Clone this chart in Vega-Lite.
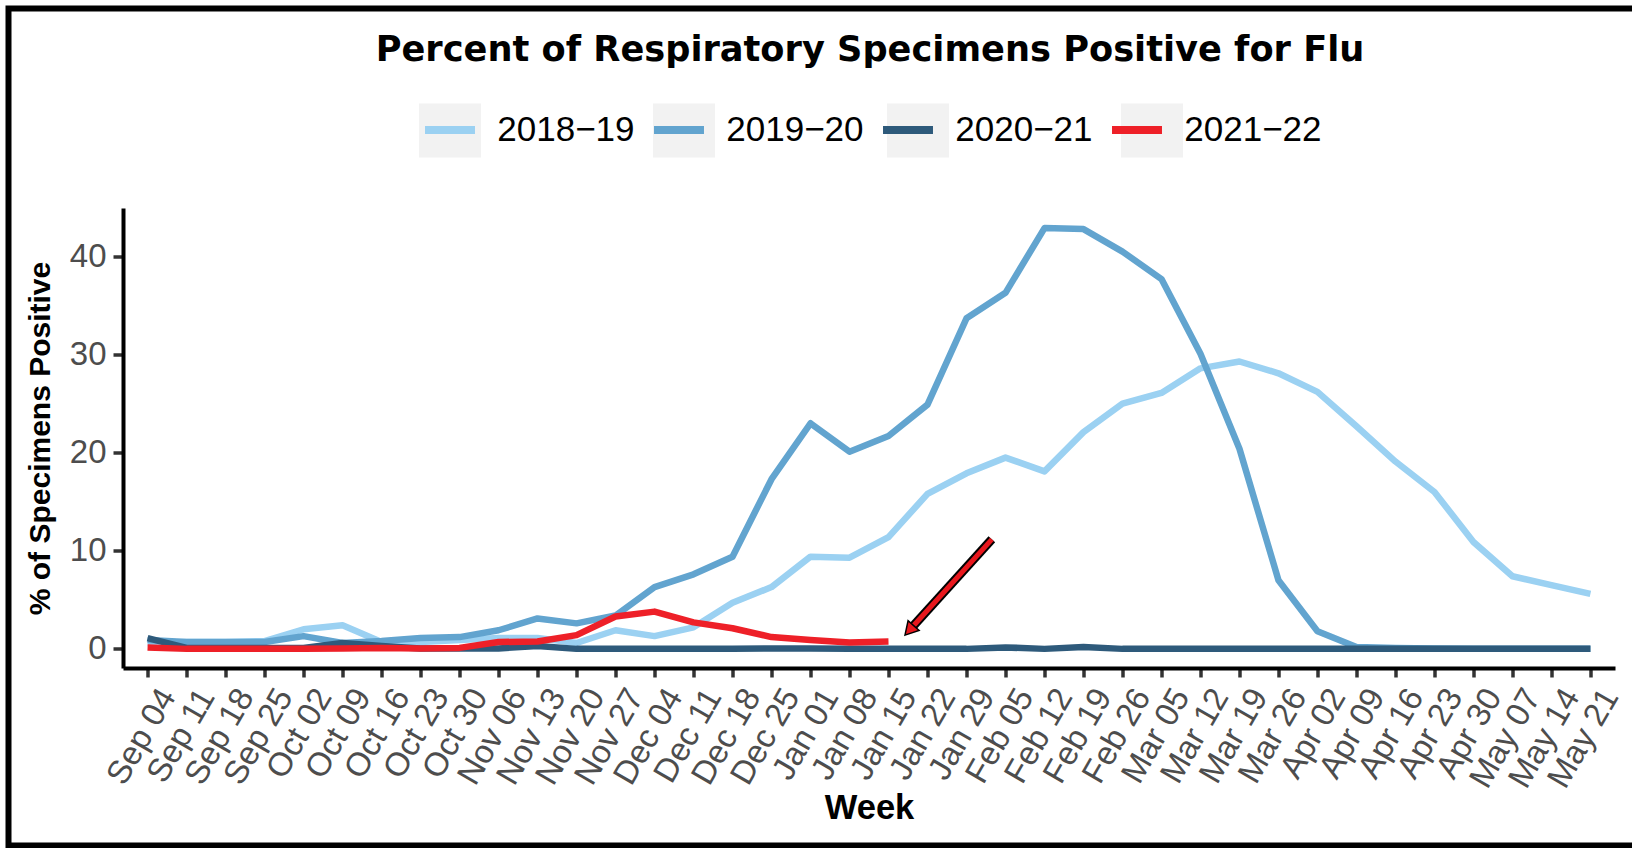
{
  "$schema": "https://vega.github.io/schema/vega-lite/v6.json",
  "width": 1627.5,
  "height": 837,
  "autosize": {"type": "none"},
  "padding": {"left": 8.5, "top": 8.5, "right": -4, "bottom": 2.5},
  "background": "white",
  "title": {
    "text": "Percent of Respiratory Specimens Positive for Flu",
    "font": "DejaVu Sans",
    "fontSize": 35.2,
    "fontWeight": "bold",
    "color": "black",
    "anchor": "middle",
    "frame": "group",
    "baseline": "alphabetic",
    "offset": -88,
    "dx": 47.75
  },
  "resolve": {"scale": {"x": "independent"}},
  "layer": [
    {
      "data": {"values": [{"season": "2018−19"}, {"season": "2019−20"}, {"season": "2020−21"}, {"season": "2021−22"}]},
      "transform": [{"filter": "false"}],
      "mark": {"type": "point", "filled": true},
      "encoding": {
        "fill": {
          "field": "season",
          "type": "nominal",
          "scale": {"domain": ["2018−19", "2019−20", "2020−21", "2021−22"], "range": ["#f2f2f2", "#f2f2f2", "#f2f2f2", "#f2f2f2"]},
          "legend": {
            "orient": "none",
            "legendX": 406.5,
            "legendY": 86.5,
            "direction": "horizontal",
            "title": null,
            "padding": 0,
            "symbolType": "M-1,-0.871H1V0.871H-1Z",
            "symbolSize": 3844,
            "symbolStrokeWidth": 8,
            "symbolStrokeColor": "transparent",
            "symbolOpacity": 1,
            "labelFont": "Liberation Sans",
            "labelFontSize": 35,
            "labelExpr": "''",
            "labelOffset": 12.3,
            "columnPadding": 139
          }
        }
      }
    },
    {
      "data": {
        "values": [
          {"week": "Sep 04", "2018−19": 0.6, "2019−20": 0.9, "2020−21": 1.1, "2021−22": 0.15},
          {"week": "Sep 11", "2018−19": 0.7, "2019−20": 0.7, "2020−21": 0.1, "2021−22": 0.0},
          {"week": "Sep 18", "2018−19": 0.7, "2019−20": 0.7, "2020−21": 0.1, "2021−22": 0.0},
          {"week": "Sep 25", "2018−19": 0.8, "2019−20": 0.7, "2020−21": 0.1, "2021−22": 0.0},
          {"week": "Oct 02", "2018−19": 2.0, "2019−20": 1.3, "2020−21": 0.1, "2021−22": 0.0},
          {"week": "Oct 09", "2018−19": 2.4, "2019−20": 0.6, "2020−21": 0.6, "2021−22": 0.05},
          {"week": "Oct 16", "2018−19": 0.7, "2019−20": 0.8, "2020−21": 0.3, "2021−22": 0.1},
          {"week": "Oct 23", "2018−19": 0.7, "2019−20": 1.1, "2020−21": 0.05, "2021−22": 0.05},
          {"week": "Oct 30", "2018−19": 0.9, "2019−20": 1.2, "2020−21": 0.05, "2021−22": 0.1},
          {"week": "Nov 06", "2018−19": 1.1, "2019−20": 1.9, "2020−21": 0.05, "2021−22": 0.7},
          {"week": "Nov 13", "2018−19": 1.1, "2019−20": 3.1, "2020−21": 0.3, "2021−22": 0.75},
          {"week": "Nov 20", "2018−19": 0.6, "2019−20": 2.6, "2020−21": 0.0, "2021−22": 1.4},
          {"week": "Nov 27", "2018−19": 1.9, "2019−20": 3.4, "2020−21": 0.0, "2021−22": 3.3},
          {"week": "Dec 04", "2018−19": 1.3, "2019−20": 6.3, "2020−21": 0.0, "2021−22": 3.8},
          {"week": "Dec 11", "2018−19": 2.2, "2019−20": 7.6, "2020−21": 0.0, "2021−22": 2.7},
          {"week": "Dec 18", "2018−19": 4.7, "2019−20": 9.4, "2020−21": 0.0, "2021−22": 2.1},
          {"week": "Dec 25", "2018−19": 6.3, "2019−20": 17.3, "2020−21": 0.05, "2021−22": 1.2},
          {"week": "Jan 01", "2018−19": 9.4, "2019−20": 23.0, "2020−21": 0.05, "2021−22": 0.9},
          {"week": "Jan 08", "2018−19": 9.3, "2019−20": 20.1, "2020−21": 0.0, "2021−22": 0.65},
          {"week": "Jan 15", "2018−19": 11.4, "2019−20": 21.7, "2020−21": 0.0, "2021−22": 0.75},
          {"week": "Jan 22", "2018−19": 15.8, "2019−20": 24.9, "2020−21": 0.0, "2021−22": null},
          {"week": "Jan 29", "2018−19": 17.9, "2019−20": 33.7, "2020−21": 0.0, "2021−22": null},
          {"week": "Feb 05", "2018−19": 19.5, "2019−20": 36.3, "2020−21": 0.15, "2021−22": null},
          {"week": "Feb 12", "2018−19": 18.1, "2019−20": 42.9, "2020−21": 0.0, "2021−22": null},
          {"week": "Feb 19", "2018−19": 22.1, "2019−20": 42.8, "2020−21": 0.2, "2021−22": null},
          {"week": "Feb 26", "2018−19": 25.0, "2019−20": 40.5, "2020−21": 0.0, "2021−22": null},
          {"week": "Mar 05", "2018−19": 26.1, "2019−20": 37.7, "2020−21": 0.0, "2021−22": null},
          {"week": "Mar 12", "2018−19": 28.6, "2019−20": 30.1, "2020−21": 0.0, "2021−22": null},
          {"week": "Mar 19", "2018−19": 29.3, "2019−20": 20.4, "2020−21": 0.0, "2021−22": null},
          {"week": "Mar 26", "2018−19": 28.1, "2019−20": 7.0, "2020−21": 0.0, "2021−22": null},
          {"week": "Apr 02", "2018−19": 26.2, "2019−20": 1.8, "2020−21": 0.0, "2021−22": null},
          {"week": "Apr 09", "2018−19": 22.7, "2019−20": 0.2, "2020−21": 0.0, "2021−22": null},
          {"week": "Apr 16", "2018−19": 19.1, "2019−20": 0.1, "2020−21": 0.0, "2021−22": null},
          {"week": "Apr 23", "2018−19": 16.0, "2019−20": 0.05, "2020−21": 0.0, "2021−22": null},
          {"week": "Apr 30", "2018−19": 10.9, "2019−20": 0.0, "2020−21": 0.0, "2021−22": null},
          {"week": "May 07", "2018−19": 7.4, "2019−20": 0.0, "2020−21": 0.0, "2021−22": null},
          {"week": "May 14", "2018−19": 6.5, "2019−20": 0.0, "2020−21": 0.0, "2021−22": null},
          {"week": "May 21", "2018−19": 5.6, "2019−20": 0.0, "2020−21": 0.0, "2021−22": null}
        ]
      },
      "transform": [{"fold": ["2018−19", "2019−20", "2020−21", "2021−22"], "as": ["season", "pct"]}],
      "mark": {"type": "line", "strokeWidth": 6.5, "strokeCap": "butt", "strokeJoin": "round"},
      "encoding": {
        "x": {
          "field": "week",
          "type": "ordinal",
          "sort": null,
          "scale": {"type": "point", "padding": 0.63, "range": [114.5, 1606.5]},
          "axis": {
            "offset": -177.5,
            "title": "Week",
            "titleFont": "Liberation Sans",
            "titleFontSize": 34.5,
            "titleFontWeight": "bold",
            "titleColor": "black",
            "titlePadding": -2,
            "labelAngle": -60,
            "labelAlign": "right",
            "labelBaseline": "top",
            "labelPadding": 6,
            "labelOffset": 6,
            "labelFont": "Liberation Sans",
            "labelFontSize": 33,
            "labelColor": "#4d4d4d",
            "labelOverlap": false,
            "tickSize": 9,
            "tickWidth": 3.5,
            "tickColor": "#333333",
            "domainColor": "black",
            "domainWidth": 4,
            "grid": false
          }
        },
        "y": {
          "field": "pct",
          "type": "quantitative",
          "title": "% of Specimens Positive",
          "scale": {"domain": [-1.95, 44.95], "nice": false, "zero": false, "range": [659.5, 199.5]},
          "axis": {
            "offset": -114.5,
            "values": [0, 10, 20, 30, 40],
            "titleFont": "Liberation Sans",
            "titleFontSize": 30,
            "titleFontWeight": "bold",
            "titleColor": "black",
            "titlePadding": 14,
            "labelFont": "Liberation Sans",
            "labelFontSize": 33,
            "labelColor": "#4d4d4d",
            "labelPadding": 7,
            "labelFlush": false,
            "tickSize": 10,
            "tickWidth": 3.5,
            "tickColor": "#333333",
            "domainColor": "black",
            "domainWidth": 4,
            "grid": false
          }
        },
        "color": {
          "field": "season",
          "type": "nominal",
          "scale": {"range": ["#9BD1F2", "#62A4CF", "#2E5A7B", "#EE2028"]},
          "legend": {
            "orient": "none",
            "legendX": 406.5,
            "legendY": 86.5,
            "direction": "horizontal",
            "title": null,
            "padding": 0,
            "symbolType": "M-0.806,0H0.806",
            "symbolSize": 3844,
            "symbolStrokeWidth": 8,
            "labelFont": "Liberation Sans",
            "labelFontSize": 35,
            "labelColor": "black",
            "labelOffset": 12.3,
            "columnPadding": 3
          }
        },
        "order": {"value": null}
      }
    },
    {
      "data": {"values": [{"x": 21.65, "y": 11.17, "x2": 19.57, "y2": 2.05}]},
      "layer": [
        {
          "mark": {"type": "rule", "color": "black", "strokeWidth": 9, "strokeCap": "butt"},
          "encoding": {
            "x": {"field": "x", "type": "quantitative", "scale": {"domain": [-0.63, 37.63], "range": [114.5, 1606.5], "nice": false, "zero": false}, "axis": null},
            "x2": {"field": "x2"},
            "y": {"field": "y", "type": "quantitative", "title": "% of Specimens Positive", "scale": {"domain": [-1.95, 44.95], "nice": false, "zero": false, "range": [659.5, 199.5]}},
            "y2": {"field": "y2"}
          }
        },
        {
          "mark": {"type": "rule", "color": "#e8171d", "strokeWidth": 5, "strokeCap": "butt"},
          "encoding": {
            "x": {"field": "x", "type": "quantitative", "axis": null},
            "x2": {"field": "x2"},
            "y": {"field": "y", "type": "quantitative", "title": "% of Specimens Positive"},
            "y2": {"field": "y2"}
          }
        },
        {
          "mark": {"type": "point", "shape": "triangle", "filled": true, "fill": "#e8171d", "stroke": "black", "strokeWidth": 1.5, "angle": 222, "size": 220, "opacity": 1},
          "encoding": {
            "x": {"field": "x2", "type": "quantitative", "axis": null},
            "y": {"field": "y2", "type": "quantitative", "title": "% of Specimens Positive"}
          }
        }
      ]
    }
  ],
  "config": {
    "view": {"stroke": "black", "strokeWidth": 6, "fill": "white"},
    "font": "Liberation Sans",
    "axis": {"grid": false}
  }
}
